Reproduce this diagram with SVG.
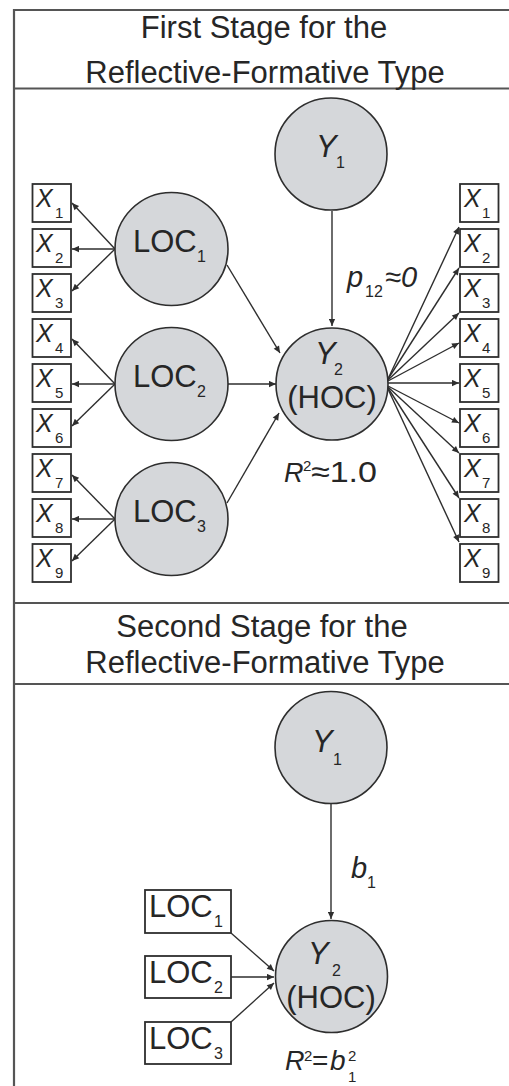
<svg xmlns="http://www.w3.org/2000/svg" width="509" height="1086" viewBox="0 0 509 1086">
<style>
text{font-family:"Liberation Sans",Arial,sans-serif;fill:#262626}
.title{font-size:31px;text-anchor:middle}
.big{font-size:31px}
.it{font-style:italic}
.xl{font-size:25px;font-style:italic}
.xs{font-size:15px;font-style:normal}
.sub{font-size:16px;font-style:normal}
.lat{fill:#d5d7da;stroke:#2e2e2e;stroke-width:1.6}
.box{fill:#fff;stroke:#2e2e2e;stroke-width:1.8}
.frame{stroke:#555;stroke-width:2.2;fill:none}
.con line{stroke:#2e2e2e;stroke-width:1.4;marker-end:url(#arr)}
</style>
<defs>
<marker id="arr" viewBox="0 0 10 10" refX="10" refY="5" markerWidth="9" markerHeight="7" markerUnits="userSpaceOnUse" orient="auto">
<path d="M0,0.5 L10,5 L0,9.5 Z" fill="#2e2e2e"/>
</marker>
</defs>
<rect width="509" height="1086" fill="#fff"/>
<g id="frame">
<path class="frame" d="M14,1086 V10 H509 M14,88.5 H509 M14,603 H509 M14,684 H509"/>
</g>
<g id="header1">
<text class="title" x="264" y="38">First Stage for the</text>
<text class="title" x="265" y="83">Reflective-Formative Type</text>
</g>
<g id="header2">
<text class="title" x="262" y="637">Second Stage for the</text>
<text class="title" x="265" y="673">Reflective-Formative Type</text>
</g>
<g id="connectors" class="con">
<line x1="332" y1="211" x2="332" y2="326"/>
<line x1="115" y1="249" x2="72" y2="203"/>
<line x1="115" y1="249" x2="72" y2="249"/>
<line x1="115" y1="249" x2="72" y2="291"/>
<line x1="115" y1="384" x2="72" y2="339"/>
<line x1="115" y1="384" x2="72" y2="384"/>
<line x1="115" y1="384" x2="72" y2="426"/>
<line x1="115" y1="519" x2="72" y2="475"/>
<line x1="115" y1="519" x2="72" y2="519"/>
<line x1="115" y1="519" x2="72" y2="561"/>
<line x1="227" y1="265" x2="280" y2="353"/>
<line x1="228" y1="384" x2="276" y2="384"/>
<line x1="227" y1="503" x2="279" y2="413"/>
<line x1="388" y1="379" x2="459" y2="227"/>
<line x1="388" y1="379" x2="459" y2="268"/>
<line x1="388" y1="380" x2="459" y2="313"/>
<line x1="388" y1="381" x2="459" y2="343"/>
<line x1="388" y1="383" x2="459" y2="383"/>
<line x1="388" y1="386" x2="459" y2="423"/>
<line x1="388" y1="387" x2="459" y2="453"/>
<line x1="388" y1="388" x2="459" y2="498"/>
<line x1="388" y1="389" x2="459" y2="542"/>
<line x1="331" y1="803" x2="331" y2="919"/>
<line x1="231" y1="933" x2="274" y2="971"/>
<line x1="231" y1="977" x2="274" y2="977"/>
<line x1="231" y1="1022" x2="274" y2="983"/>
</g>
<g id="Y1a">
<circle class="lat" cx="331" cy="154" r="56"/>
<text class="big it" font-size="30"><tspan x="316" y="157">Y</tspan><tspan class="sub" x="336" y="168">1</tspan></text>
</g>
<g id="Y2a">
<circle class="lat" cx="332" cy="384" r="56"/>
<text class="big it" font-size="30"><tspan x="315" y="364">Y</tspan><tspan class="sub" x="334" y="375">2</tspan></text>
<text class="big" x="332" y="408" text-anchor="middle" font-size="32">(HOC)</text>
</g>
<g id="LOC1a">
<circle class="lat" cx="171.5" cy="249" r="56.5"/>
<text class="big"><tspan x="133" y="252">LOC</tspan><tspan class="sub" x="197" y="262">1</tspan></text>
</g>
<g id="LOC2a">
<circle class="lat" cx="171.5" cy="384" r="56.5"/>
<text class="big"><tspan x="133" y="387">LOC</tspan><tspan class="sub" x="197" y="397">2</tspan></text>
</g>
<g id="LOC3a">
<circle class="lat" cx="171.5" cy="519" r="56.5"/>
<text class="big"><tspan x="133" y="522">LOC</tspan><tspan class="sub" x="197" y="532">3</tspan></text>
</g>
<g id="leftX">
<g id="lx1"><rect class="box" x="32.5" y="184" width="38.5" height="38"/><text class="xl"><tspan x="36" y="207">X</tspan><tspan class="xs" x="55" y="218">1</tspan></text></g>
<g id="lx2"><rect class="box" x="32.5" y="229" width="38.5" height="38"/><text class="xl"><tspan x="36" y="252">X</tspan><tspan class="xs" x="55" y="263">2</tspan></text></g>
<g id="lx3"><rect class="box" x="32.5" y="274" width="38.5" height="38"/><text class="xl"><tspan x="36" y="297">X</tspan><tspan class="xs" x="55" y="308">3</tspan></text></g>
<g id="lx4"><rect class="box" x="32.5" y="319" width="38.5" height="38"/><text class="xl"><tspan x="36" y="342">X</tspan><tspan class="xs" x="55" y="353">4</tspan></text></g>
<g id="lx5"><rect class="box" x="32.5" y="364" width="38.5" height="38"/><text class="xl"><tspan x="36" y="387">X</tspan><tspan class="xs" x="55" y="398">5</tspan></text></g>
<g id="lx6"><rect class="box" x="32.5" y="409" width="38.5" height="38"/><text class="xl"><tspan x="36" y="432">X</tspan><tspan class="xs" x="55" y="443">6</tspan></text></g>
<g id="lx7"><rect class="box" x="32.5" y="454" width="38.5" height="38"/><text class="xl"><tspan x="36" y="477">X</tspan><tspan class="xs" x="55" y="488">7</tspan></text></g>
<g id="lx8"><rect class="box" x="32.5" y="499" width="38.5" height="38"/><text class="xl"><tspan x="36" y="522">X</tspan><tspan class="xs" x="55" y="533">8</tspan></text></g>
<g id="lx9"><rect class="box" x="32.5" y="544" width="38.5" height="38"/><text class="xl"><tspan x="36" y="567">X</tspan><tspan class="xs" x="55" y="578">9</tspan></text></g>
</g>
<g id="rightX">
<g id="rx1"><rect class="box" x="460" y="184" width="38.5" height="38"/><text class="xl"><tspan x="464" y="207">X</tspan><tspan class="xs" x="482" y="218">1</tspan></text></g>
<g id="rx2"><rect class="box" x="460" y="229" width="38.5" height="38"/><text class="xl"><tspan x="464" y="252">X</tspan><tspan class="xs" x="482" y="263">2</tspan></text></g>
<g id="rx3"><rect class="box" x="460" y="274" width="38.5" height="38"/><text class="xl"><tspan x="464" y="297">X</tspan><tspan class="xs" x="482" y="308">3</tspan></text></g>
<g id="rx4"><rect class="box" x="460" y="319" width="38.5" height="38"/><text class="xl"><tspan x="464" y="342">X</tspan><tspan class="xs" x="482" y="353">4</tspan></text></g>
<g id="rx5"><rect class="box" x="460" y="364" width="38.5" height="38"/><text class="xl"><tspan x="464" y="387">X</tspan><tspan class="xs" x="482" y="398">5</tspan></text></g>
<g id="rx6"><rect class="box" x="460" y="409" width="38.5" height="38"/><text class="xl"><tspan x="464" y="432">X</tspan><tspan class="xs" x="482" y="443">6</tspan></text></g>
<g id="rx7"><rect class="box" x="460" y="454" width="38.5" height="38"/><text class="xl"><tspan x="464" y="477">X</tspan><tspan class="xs" x="482" y="488">7</tspan></text></g>
<g id="rx8"><rect class="box" x="460" y="499" width="38.5" height="38"/><text class="xl"><tspan x="464" y="522">X</tspan><tspan class="xs" x="482" y="533">8</tspan></text></g>
<g id="rx9"><rect class="box" x="460" y="544" width="38.5" height="38"/><text class="xl"><tspan x="464" y="567">X</tspan><tspan class="xs" x="482" y="578">9</tspan></text></g>
</g>
<g id="labels1">
<text font-size="29"><tspan class="it" x="347" y="287">p</tspan><tspan class="sub" font-size="17" x="365" y="297">12</tspan><tspan class="it" x="385" y="287">≈0</tspan></text>
<text font-size="27"><tspan class="it" x="284" y="482">R</tspan><tspan font-size="15" x="303" y="471">2</tspan><tspan font-size="30" x="311" y="482" textLength="66" lengthAdjust="spacingAndGlyphs">≈1.0</tspan></text>
</g>
<g id="Y1b">
<circle class="lat" cx="331" cy="747.5" r="56"/>
<text class="big it" font-size="30"><tspan x="312" y="752">Y</tspan><tspan class="sub" x="333" y="765">1</tspan></text>
</g>
<g id="Y2b">
<circle class="lat" cx="331.5" cy="976.5" r="56"/>
<text class="big it" font-size="28"><tspan x="308" y="964">Y</tspan><tspan class="sub" x="332" y="976">2</tspan></text>
<text class="big" x="331" y="1008" text-anchor="middle">(HOC)</text>
</g>
<g id="LOC1b">
<rect class="box" x="145" y="890" width="86" height="43"/>
<text class="big"><tspan x="149" y="917">LOC</tspan><tspan class="sub" x="214" y="927">1</tspan></text>
</g>
<g id="LOC2b">
<rect class="box" x="145" y="956" width="86" height="42"/>
<text class="big"><tspan x="149" y="983">LOC</tspan><tspan class="sub" x="214" y="993">2</tspan></text>
</g>
<g id="LOC3b">
<rect class="box" x="145" y="1022" width="86" height="42"/>
<text class="big"><tspan x="149" y="1049">LOC</tspan><tspan class="sub" x="214" y="1059">3</tspan></text>
</g>
<g id="labels2">
<text font-size="29"><tspan class="it" x="351" y="878">b</tspan><tspan class="sub" x="367" y="888">1</tspan></text>
<text font-size="27"><tspan class="it" x="285" y="1070">R</tspan><tspan font-size="15" x="304" y="1061">2</tspan><tspan font-size="28" x="312" y="1070">=</tspan><tspan class="it" font-size="28" x="330" y="1070">b</tspan><tspan font-size="15" x="348" y="1061">2</tspan><tspan font-size="15" x="348" y="1082">1</tspan></text>
</g>
</svg>
